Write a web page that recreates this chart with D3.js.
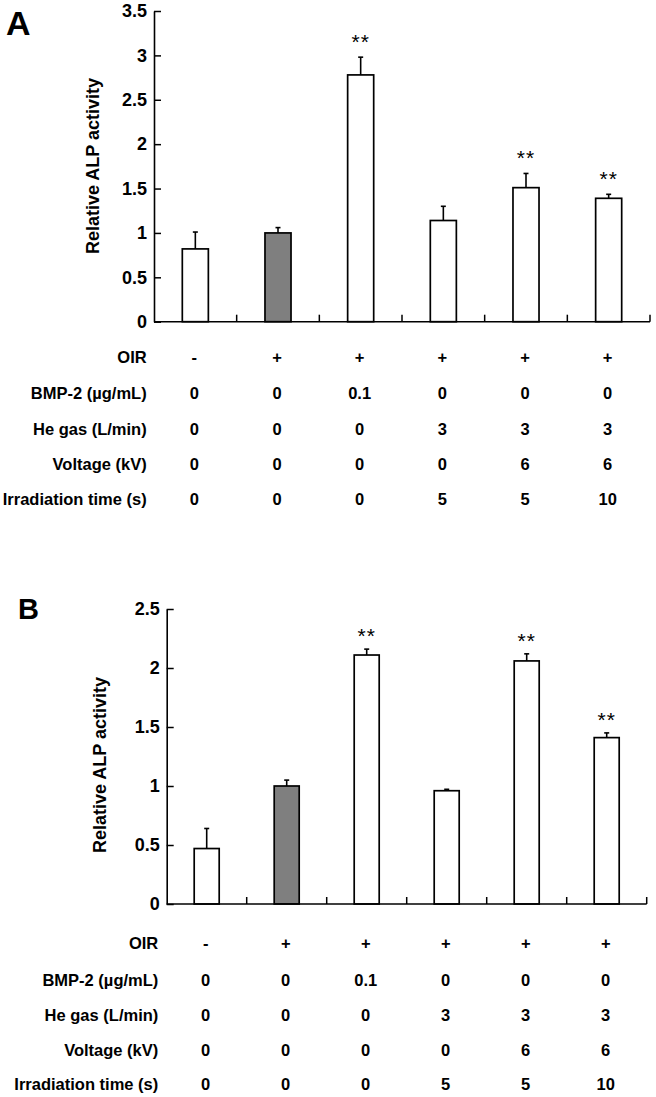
<!DOCTYPE html>
<html><head><meta charset="utf-8">
<script src="https://cdn.jsdelivr.net/npm/d3@7"></script>
<style>
html,body{margin:0;padding:0;background:#fff;}
text{font-family:"Liberation Sans",Arial,Helvetica,sans-serif;}
</style></head>
<body><svg id="chart" width="656" height="1097"></svg>
<script>
const categories = ["G1","G2","G3","G4","G5","G6"];
const rowLabels = ["OIR","BMP-2 (µg/mL)","He gas (L/min)","Voltage (kV)","Irradiation time (s)"];
const oir = ["-","+","+","+","+","+"];
const bmp2 = ["0","0","0.1","0","0","0"];
const heGas = ["0","0","0","3","3","3"];
const voltage = ["0","0","0","0","6","6"];
const irrTime = ["0","0","0","5","5","10"];
const barFill = ["#fff","#7f7f7f","#fff","#fff","#fff","#fff"];

const valuesA = [0.82, 1.00, 2.78, 1.14, 1.51, 1.39];
const errA    = [0.19, 0.06, 0.20, 0.16, 0.16, 0.045];
const sigA    = ["", "", "**", "", "**", "**"];
const ticksA  = [0, 0.5, 1, 1.5, 2, 2.5, 3, 3.5];

const valuesB = [0.47, 1.00, 2.11, 0.96, 2.06, 1.41];
const errB    = [0.17, 0.05, 0.05, 0.012, 0.06, 0.04];
const sigB    = ["", "", "**", "", "**", "**"];
const ticksB  = [0, 0.5, 1, 1.5, 2, 2.5];

const svg = d3.select("#chart");

function panel(cfg){
  const g = svg.append("g");
  const x = d3.scaleBand().domain(categories).range([cfg.x0, cfg.x1]).padding(0);
  const y = d3.scaleLinear().domain([0, cfg.ymax]).range([cfg.yBottom, cfg.yTop]);
  const bw = x.bandwidth()*cfg.barFrac;

  g.append("text").attr("x", cfg.letterX).attr("y", cfg.letterY)
    .attr("font-size", cfg.letterSize).attr("font-weight","bold").text(cfg.letter);

  const ya = g.append("g").attr("transform",`translate(${cfg.x0},0)`)
    .call(d3.axisLeft(y).tickValues(cfg.ticks).tickFormat(d=>String(d))
      .tickSizeInner(-7).tickSizeOuter(0).tickPadding(7));
  ya.select(".domain").attr("stroke","#000").attr("stroke-width",1.6);
  ya.selectAll(".tick line").attr("stroke","#000").attr("stroke-width",1.5);
  ya.selectAll(".tick text").attr("font-size",18).attr("font-weight","bold")
    .attr("font-family","Liberation Sans, Arial, sans-serif").attr("fill","#000");

  g.append("text").attr("transform",`translate(${cfg.titleX},${cfg.titleY}) rotate(-90)`)
    .attr("text-anchor","middle").attr("dy","0.35em")
    .attr("font-size",18).attr("font-weight","bold").text("Relative ALP activity");

  const data = categories.map((c,i)=>({c, v:cfg.values[i], e:cfg.err[i], s:cfg.sig[i], f:barFill[i]}));
  g.selectAll("rect.bar").data(data).join("rect").attr("class","bar")
    .attr("x", d=>x(d.c)+(x.bandwidth()-bw)/2).attr("width", bw)
    .attr("y", d=>y(d.v)).attr("height", d=>y(0)-y(d.v))
    .attr("fill", d=>d.f).attr("stroke","#000").attr("stroke-width",1.7);

  const cx = d=>x(d.c)+x.bandwidth()/2;
  g.selectAll("line.err").data(data).join("line").attr("class","err")
    .attr("x1",cx).attr("x2",cx).attr("y1",d=>y(d.v)).attr("y2",d=>y(d.v+d.e))
    .attr("stroke","#000").attr("stroke-width",1.6);
  g.selectAll("line.cap").data(data).join("line").attr("class","cap")
    .attr("x1",d=>cx(d)-2.5).attr("x2",d=>cx(d)+2.5).attr("y1",d=>y(d.v+d.e)).attr("y2",d=>y(d.v+d.e))
    .attr("stroke","#000").attr("stroke-width",1.6);

  g.selectAll("text.sig").data(data.filter(d=>d.s)).join("text").attr("class","sig")
    .attr("x",cx).attr("y",d=>y(d.v+d.e)-cfg.starGap+10)
    .attr("text-anchor","middle").attr("font-family","Liberation Serif, Times New Roman, serif")
    .attr("font-size",21).attr("letter-spacing",1).text(d=>d.s);

  g.append("line").attr("x1",cfg.x0).attr("x2",cfg.x1).attr("y1",y(0)).attr("y2",y(0))
    .attr("stroke","#000").attr("stroke-width",1.6);
  g.selectAll("line.xt").data(categories).join("line").attr("class","xt")
    .attr("x1",d=>x(d)+x.bandwidth()).attr("x2",d=>x(d)+x.bandwidth())
    .attr("y1",y(0)).attr("y2",y(0)-7).attr("stroke","#000").attr("stroke-width",1.5);

  const rows = [oir,bmp2,heGas,voltage,irrTime];
  rows.forEach((r,ri)=>{
    const ry = cfg.rowY[ri];
    g.append("text").attr("x",cfg.labelRight).attr("y",ry).attr("dy","0.35em")
      .attr("text-anchor","end").attr("font-size",16.5).attr("font-weight","bold").text(rowLabels[ri]);
    g.selectAll(null).data(r).join("text")
      .attr("x",(d,i)=>x(categories[i])+x.bandwidth()/2-1).attr("y",ry).attr("dy","0.35em")
      .attr("text-anchor","middle").attr("font-size",16.5).attr("font-weight","bold").text(d=>d);
  });
}

panel({letter:"A", letterX:6, letterY:35, letterSize:34,
  x0:154, x1:650, yTop:11, yBottom:321.7, ymax:3.5, ticks:ticksA, barFrac:0.315,
  values:valuesA, err:errA, sig:sigA, starGap:18,
  titleX:93, titleY:166, labelRight:146.7,
  rowY:[357.3,393.3,429.3,464,499.3]});

panel({letter:"B", letterX:18, letterY:619, letterSize:29,
  x0:166.7, x1:646.7, yTop:609, yBottom:904, ymax:2.5, ticks:ticksB, barFrac:0.3125,
  values:valuesB, err:errB, sig:sigB, starGap:16,
  titleX:99.3, titleY:765, labelRight:158.3,
  rowY:[943.3,980,1015,1050,1084.3]});
</script></body></html>
